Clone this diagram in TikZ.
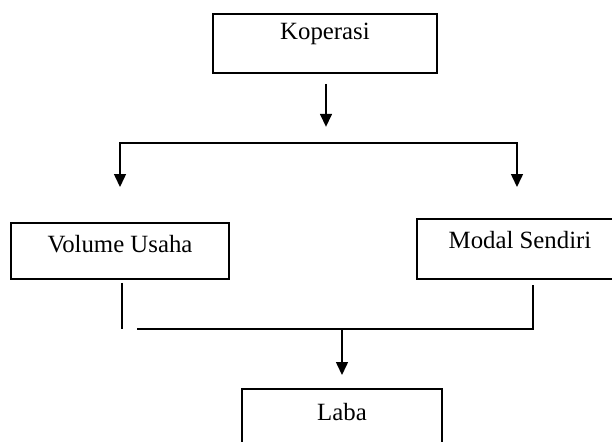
\documentclass[tikz,border=0pt]{standalone}
\usepackage{fontspec}
\setmainfont{Liberation Serif}
\usetikzlibrary{arrows.meta}
\tikzset{>={Triangle[width=6pt,length=6.5pt]}}
\tikzset{%
    kotak/.style={draw, line width=0.9pt, inner sep=0pt, anchor=north,
        font=\fontsize{12.4}{14}\selectfont},
    garis/.style={line width=0.75pt}
}

\begin{document}
\begin{tikzpicture}[x=0.5pt,y=-0.5pt]
  \clip (0,0) rectangle (612,441);
  \node[kotak, minimum width=112pt, text height=13pt, text depth=16.5pt] (kop) at (325,13) {Koperasi};
  \node[kotak, minimum width=109pt, text height=15pt, text depth=13pt] (vol) at (120,222) {Volume Usaha};
  \node[kotak, minimum width=103pt, text height=15pt, text depth=15pt] (modal) at (520,218) {Modal Sendiri};
  \node[kotak, minimum width=100pt, text height=16pt, text depth=16pt] (laba) at (342,388) {Laba};
  \coordinate (cab) at (326,143);
  \coordinate (ujungkiri) at (120,187);
  \coordinate (ujungkanan) at (517,187);
  \coordinate (gabung) at (342,329);
  \draw[garis,->] ([xshift=0.5pt,yshift=-5pt]kop.south) -- ++(0,43);
  \draw[garis,<->] (ujungkiri) |- (cab) -| (ujungkanan);
  \draw[garis] ([xshift=1pt,yshift=-1.5pt]vol.south) -- ++(0,46);
  \draw[garis] (137,329) -- (gabung) -| ([xshift=6.5pt,yshift=-2.5pt]modal.south);
  \draw[garis,->] (gabung) -- ([yshift=6.5pt]laba.north);
\end{tikzpicture}
\end{document}
